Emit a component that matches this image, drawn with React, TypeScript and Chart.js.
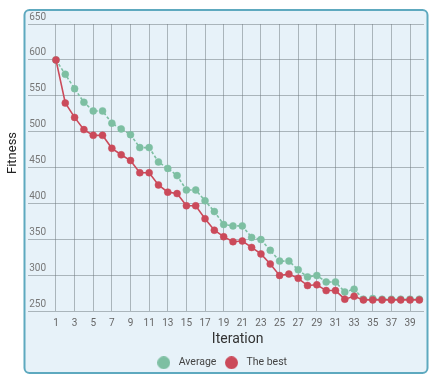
import React, { useEffect, useRef } from "react";
import { Chart, registerables } from "chart.js";

Chart.register(...registerables);

const iterations = ["1","2","3","4","5","6","7","8","9","10","11","12","13","14","15","16","17","18","19","20","21","22","23","24","25","26","27","28","29","30","31","32","33","34","35","36","37","38","39","40"];
const averageFitness = [600,580,560,541,529,529,512,504,496,478,478,458,449,439,419,419,404,389,371,369,369,353,350,335,320,320,308,298,300,291,291,277,281,267,268,267,267,267,267,267];
const bestFitness = [600,540,520,503,495,495,477,468,460,443,443,426,416,414,397,397,379,363,354,347,348,339,330,316,300,302,296,286,287,279,279,267,271,266,266,266,266,266,266,266];
const yTicksMin = 250;
const yTicksMax = 650;
const yStep = 50;

const GREEN = "#7dbfa2";
const RED = "#cb4a5a";

function circleImage(color: string, d: number) {
  const c = document.createElement("canvas");
  c.width = d;
  c.height = d;
  const g = c.getContext("2d")!;
  g.fillStyle = color;
  g.beginPath();
  g.arc(d / 2, d / 2, d / 2, 0, Math.PI * 2);
  g.fill();
  return c;
}

const framePlugin = {
  id: "frame",
  beforeDraw(chart: any) {
    const ctx = chart.ctx;
    ctx.save();
    ctx.fillStyle = "#ffffff";
    ctx.fillRect(0, 0, chart.width, chart.height);
    ctx.beginPath();
    (ctx as any).roundRect(24.5, 10, 403, 363, 5);
    ctx.fillStyle = "#e7f2f9";
    ctx.fill();
    ctx.lineWidth = 2;
    ctx.strokeStyle = "#5ea9bf";
    ctx.stroke();
    ctx.restore();
  },
  afterDraw(chart: any) {
    const ctx = chart.ctx;
    ctx.save();
    ctx.translate(13, 153);
    ctx.rotate(-Math.PI / 2);
    ctx.font = "13px Roboto";
    ctx.fillStyle = "#222";
    ctx.textAlign = "center";
    ctx.textBaseline = "middle";
    ctx.fillText("Fitness", 0, 0);
    ctx.restore();
  },
};

export default function App() {
  const ref = useRef<HTMLCanvasElement>(null);
  useEffect(() => {
    const greenDot = circleImage(GREEN, 13);
    const redDot = circleImage(RED, 13);
    const chart = new Chart(ref.current!, {
      type: "line",
      data: {
        labels: iterations,
        datasets: [
          {
            label: "The best",
            data: bestFitness,
            borderColor: RED,
            backgroundColor: RED,
            pointBackgroundColor: RED,
            pointBorderColor: RED,
            borderWidth: 1.6,
            pointRadius: 3.5,
            pointBorderWidth: 0.5,
            tension: 0,
          },
          {
            label: "Average",
            data: averageFitness,
            borderColor: GREEN,
            backgroundColor: GREEN,
            pointBackgroundColor: GREEN,
            pointBorderColor: GREEN,
            borderWidth: 1.6,
            borderDash: [3, 2],
            pointRadius: 3.5,
            pointBorderWidth: 0.5,
            tension: 0,
          },
        ],
      },
      options: {
        animation: false,
        responsive: true,
        maintainAspectRatio: false,
        layout: { padding: { left: 17, right: 19, top: 24, bottom: 9 } },
        plugins: {
          tooltip: { enabled: false },
          legend: {
            position: "bottom",
            reverse: true,
            labels: {
              usePointStyle: true,
              pointStyleWidth: 19.5,
              boxHeight: 10,
              padding: 5.3,
              color: "#444",
              font: { family: "Roboto", size: 10.5 },
              generateLabels(c: any) {
                const items = Chart.defaults.plugins.legend.labels.generateLabels(c);
                items.forEach((it: any) => {
                  it.pointStyle = it.datasetIndex === 0 ? redDot : greenDot;
                  it.lineDash = [];
                });
                return items;
              },
            },
          },
        },
        scales: {
          x: {
            type: "category",
            offset: true,
            grid: { offset: false, drawTicks: false, color: "rgba(110,120,125,0.5)" },
            border: { display: false },
            ticks: {
              autoSkip: false,
              maxRotation: 0,
              padding: 6,
              color: "#666",
              font: { family: "Roboto", size: 10 },
              callback: (_v: any, i: number) => (i % 2 === 0 ? iterations[i] : null),
            },
            title: {
              display: true,
              text: "Iteration",
              color: "#333",
              font: { family: "Roboto", size: 14 },
              padding: { top: -4, bottom: 4 },
            },
          },
          y: {
            min: yTicksMin,
            max: yTicksMax,
            afterFit(s: any) {
              s.width = 34.3;
            },
            grid: { color: "rgba(110,120,125,0.5)", tickLength: 23.3 },
            border: { display: false },
            ticks: {
              stepSize: yStep,
              padding: -18,
              labelOffset: -7,
              color: "#777",
              font: { family: "Roboto", size: 10 },
            },
          },
        },
      },
      plugins: [framePlugin],
    });
    return () => chart.destroy();
  }, []);
  return (
    <div style={{ position: "absolute", left: 0, top: 0, width: 443, height: 387 }}>
      <canvas ref={ref} />
    </div>
  );
}
